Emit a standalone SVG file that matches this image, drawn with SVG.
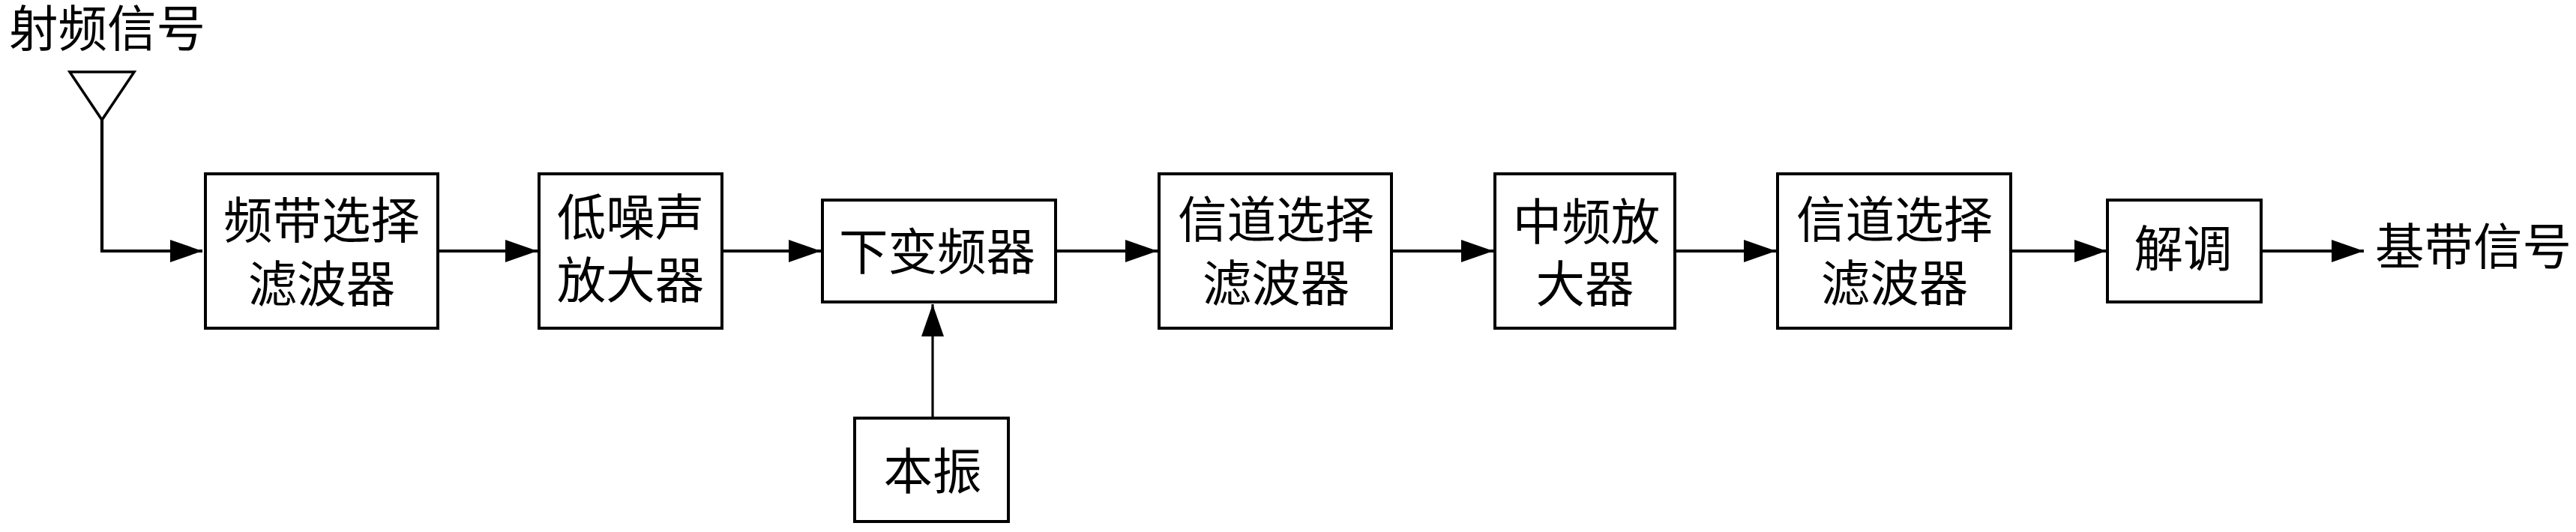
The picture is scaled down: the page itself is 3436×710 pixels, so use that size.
<svg xmlns="http://www.w3.org/2000/svg" width="3436" height="710" viewBox="0 0 3436 710">
<style>
rect.b{fill:#fff;stroke:#000;stroke-width:4}
text{font-family:"Liberation Serif","Noto Sans CJK SC",serif;font-size:65.5px;fill:#000;text-anchor:middle}
.c path{fill:none;stroke:#000;stroke-width:4.2}
.c path.v{stroke-width:3.2}
.a{fill:#000;stroke:none}
</style>
<defs><marker id="ah" markerUnits="userSpaceOnUse" markerWidth="44" markerHeight="32" refX="43" refY="15" orient="auto"><path class="a" d="M0 0L43 15L0 30Z"/></marker></defs>
<rect width="3436" height="710" fill="#fff"/>
<g id="n-rf"><text x="143" y="62">射频信号</text></g>
<g id="n-ant"><path d="M93 96H179L136 160Z" fill="#fff" stroke="#000" stroke-width="3.5"/></g>
<g id="n1"><rect class="b" x="274" y="232" width="310" height="206"/><text x="429" y="318">频带选择</text><text x="429" y="403">滤波器</text></g>
<g id="n2"><rect class="b" x="719" y="232" width="244" height="206"/><text x="841" y="314">低噪声</text><text x="841" y="398">放大器</text></g>
<g id="n3"><rect class="b" x="1097" y="267" width="311" height="136"/><text x="1250" y="360">下变频器</text></g>
<g id="n4"><rect class="b" x="1546" y="232" width="310" height="206"/><text x="1702" y="317">信道选择</text><text x="1702" y="402">滤波器</text></g>
<g id="n5"><rect class="b" x="1994" y="232" width="240" height="206"/><text x="2116" y="320">中频放</text><text x="2114" y="403">大器</text></g>
<g id="n6"><rect class="b" x="2371" y="232" width="311" height="206"/><text x="2527" y="317">信道选择</text><text x="2527" y="402">滤波器</text></g>
<g id="n7"><rect class="b" x="2811" y="267" width="205" height="136"/><text x="2912" y="356">解调</text></g>
<g id="n8"><rect class="b" x="1140" y="558" width="205" height="138"/><text x="1244" y="653">本振</text></g>
<g id="n-bb"><text x="3299" y="353">基带信号</text></g>
<g id="connectors" class="c">
<path d="M136 160V335H270" marker-end="url(#ah)"/>
<path d="M584 335H717" marker-end="url(#ah)"/>
<path d="M963 335H1095" marker-end="url(#ah)"/>
<path d="M1408 335H1544" marker-end="url(#ah)"/>
<path d="M1856 335H1992" marker-end="url(#ah)"/>
<path d="M2234 335H2369" marker-end="url(#ah)"/>
<path d="M2682 335H2810" marker-end="url(#ah)"/>
<path d="M3016 335H3153" marker-end="url(#ah)"/>
<path class="v" d="M1244 558V406" marker-end="url(#ah)"/>
</g>
</svg>
